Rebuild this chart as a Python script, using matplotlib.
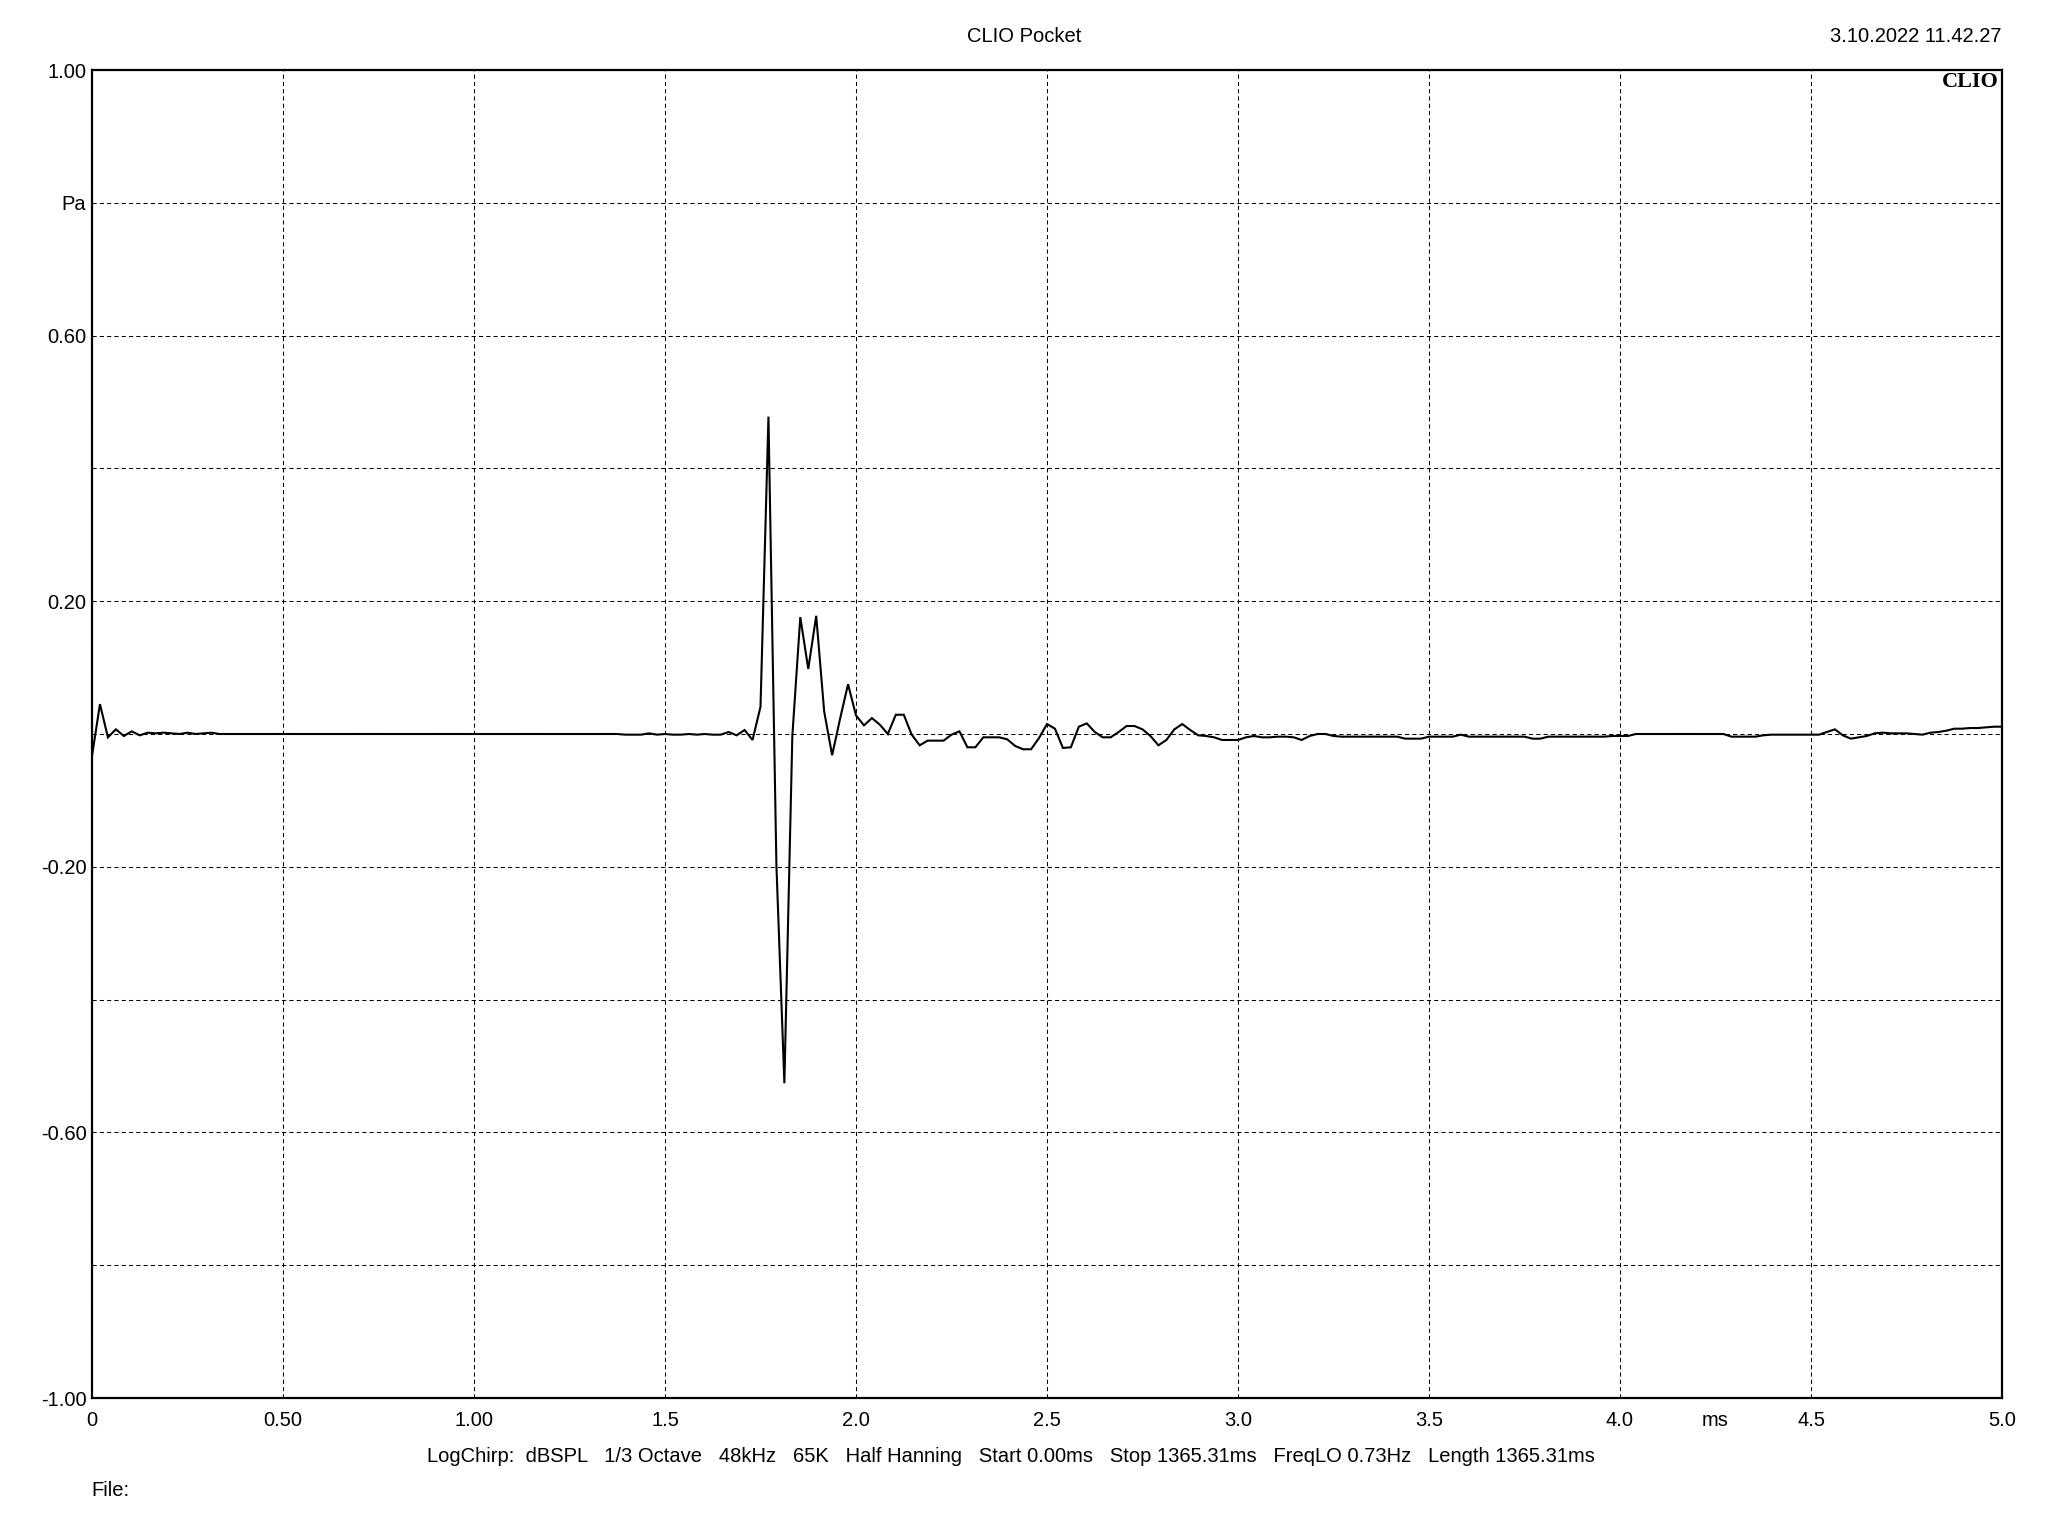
import numpy as np
import matplotlib
matplotlib.use("Agg")
import matplotlib.pyplot as plt

# ---- data (impulse response, 48 kHz samples, 0..5 ms) ----
sample_rate_khz = 48.0
pressure_pa = [
    -0.033, 0.045, -0.005, 0.007, -0.003, 0.004, -0.002, 0.002, 0.001, 0.002,
    0.001, 0.000, 0.002, 0.000, 0.001, 0.002, 0.000, 0.000, 0.000, 0.000,
    0.000, 0.000, 0.000, 0.000, 0.000, 0.000, 0.000, 0.000, 0.000, 0.000,
    0.000, 0.000, 0.000, 0.000, 0.000, 0.000, 0.000, 0.000, 0.000, 0.000,
    0.000, 0.000, 0.000, 0.000, 0.000, 0.000, 0.000, 0.000, 0.000, 0.000,
    0.000, 0.000, 0.000, 0.000, 0.000, 0.000, 0.000, 0.000, 0.000, 0.000,
    0.000, 0.000, 0.000, 0.000, 0.000, 0.000, 0.000, -0.001, -0.001, -0.001,
    0.001, -0.001, 0.000, -0.001, -0.001, 0.000, -0.001, 0.000, -0.001, -0.001,
    0.003, -0.002, 0.006, -0.009, 0.041, 0.478, -0.198, -0.526, -0.003, 0.176,
    0.098, 0.178, 0.034, -0.032, 0.023, 0.075, 0.028, 0.013, 0.024, 0.014,
    0.000, 0.029, 0.029, -0.001, -0.017, -0.010, -0.010, -0.010, -0.001, 0.004,
    -0.020, -0.020, -0.005, -0.005, -0.005, -0.008, -0.018, -0.023, -0.023, -0.006,
    0.015, 0.008, -0.021, -0.020, 0.011, 0.016, 0.003, -0.005, -0.005, 0.003,
    0.012, 0.012, 0.007, -0.003, -0.017, -0.009, 0.007, 0.015, 0.006, -0.002,
    -0.003, -0.005, -0.009, -0.009, -0.009, -0.005, -0.003, -0.005, -0.005, -0.004,
    -0.004, -0.005, -0.009, -0.003, 0.000, 0.000, -0.003, -0.004, -0.004, -0.004,
    -0.004, -0.004, -0.004, -0.004, -0.004, -0.007, -0.007, -0.007, -0.004, -0.004,
    -0.004, -0.004, -0.001, -0.004, -0.004, -0.004, -0.004, -0.004, -0.004, -0.004,
    -0.004, -0.007, -0.007, -0.004, -0.004, -0.004, -0.004, -0.004, -0.004, -0.004,
    -0.004, -0.003, -0.003, -0.003, 0.000, 0.000, 0.000, 0.000, 0.000, 0.000,
    0.000, 0.000, 0.000, 0.000, 0.000, 0.000, -0.004, -0.004, -0.004, -0.004,
    -0.002, -0.001, -0.001, -0.001, -0.001, -0.001, -0.001, -0.001, 0.003, 0.007,
    -0.002, -0.007, -0.005, -0.003, 0.001, 0.002, 0.001, 0.001, 0.001, 0.000,
    -0.001, 0.002, 0.003, 0.005, 0.008, 0.008, 0.009, 0.009, 0.010, 0.011,
    0.011,
]
time_ms = np.arange(len(pressure_pa)) / sample_rate_khz

x_ticks = [0, 0.5, 1.0, 1.5, 2.0, 2.5, 3.0, 3.5, 4.0, 4.5, 5.0]
x_labels = ["0", "0.50", "1.00", "1.5", "2.0", "2.5", "3.0", "3.5", "4.0", "4.5", "5.0"]
x_unit_pos = [4.25]
x_unit_label = ["ms"]
y_ticks = [1.0, 0.8, 0.6, 0.4, 0.2, 0.0, -0.2, -0.4, -0.6, -0.8, -1.0]
y_labels = ["1.00", "Pa", "0.60", "", "0.20", "", "-0.20", "", "-0.60", "", "-1.00"]

title = "CLIO Pocket"
timestamp = "3.10.2022 11.42.27"
settings = ("LogChirp:  dBSPL   1/3 Octave   48kHz   65K   Half Hanning   "
            "Start 0.00ms   Stop 1365.31ms   FreqLO 0.73Hz   Length 1365.31ms")
file_label = "File:"

FS = 14.5

# ---- figure ----
plt.rcParams['font.family'] = ['Liberation Sans', 'DejaVu Sans']
fig = plt.figure(figsize=(20.48, 15.36), dpi=100, facecolor="white")
ax = fig.add_axes([92 / 2048, 1 - 1398 / 1536, (2002 - 92) / 2048, (1398 - 70) / 1536])

ax.plot(time_ms, pressure_pa, color="black", lw=1.5, solid_joinstyle="miter")

ax.set_xlim(0, 5.0)
ax.set_ylim(-1.0, 1.0)
ax.set_xticks(x_ticks)
ax.set_xticklabels(x_labels)
ax.set_xticks(x_unit_pos, minor=True)
ax.set_xticklabels(x_unit_label, minor=True)
ax.set_yticks(y_ticks)
ax.set_yticklabels(y_labels)
ax.tick_params(axis="both", which="both", length=0, labelsize=FS, colors="black")
ax.tick_params(axis="x", which="both", pad=9)
ax.tick_params(axis="y", pad=4)
ax.grid(True, which="major", color="black", lw=0.75, linestyle=(0, (4, 3)))
for s in ax.spines.values():
    s.set_linewidth(1.6)
    s.set_color("black")

ax.text(0.9985, 0.9985, "CLIO", transform=ax.transAxes, ha="right", va="top",
        fontsize=16, fontweight="bold", family=["Liberation Serif", "DejaVu Serif"])

fig.text(0.5, 1 - 36 / 1536, title, ha="center", va="center", fontsize=FS)
fig.text(2002 / 2048, 1 - 36 / 1536, timestamp, ha="right", va="center", fontsize=FS)
fig.text(1011 / 2048, 1 - 1456 / 1536, settings, ha="center", va="center", fontsize=FS)
fig.text(91 / 2048, 1 - 1490 / 1536, file_label, ha="left", va="center", fontsize=FS)

fig.savefig("out.png", dpi=100, facecolor="white")
